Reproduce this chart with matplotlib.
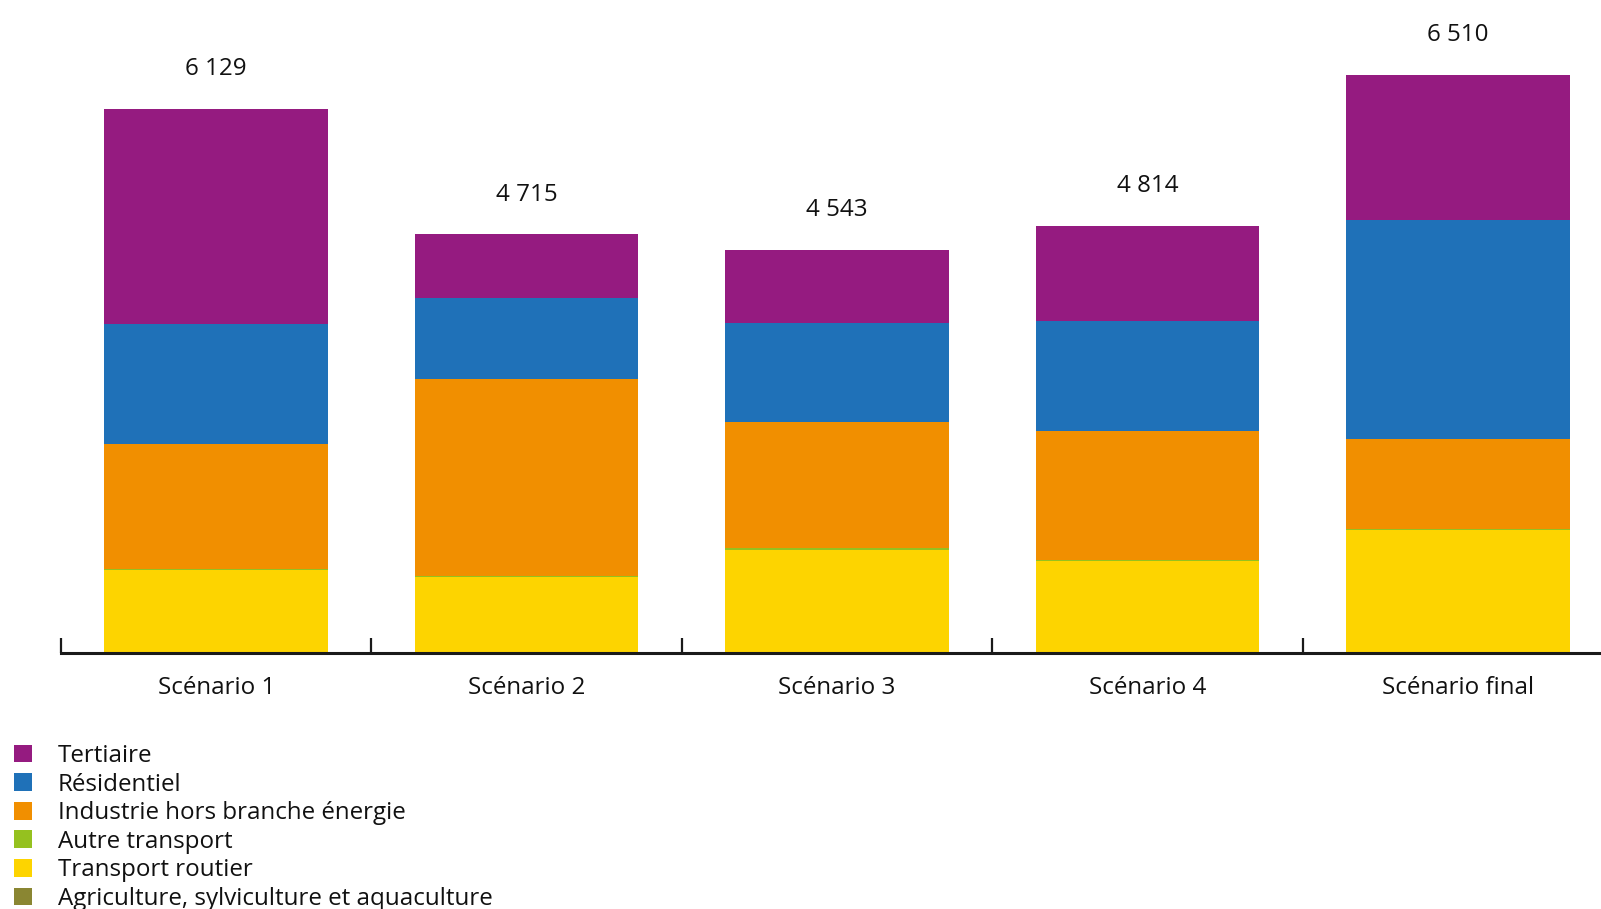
import matplotlib
matplotlib.use('Agg')
import matplotlib.pyplot as plt
import numpy as np

categories = ['Scénario 1', 'Scénario 2', 'Scénario 3', 'Scénario 4', 'Scénario final']
totals = [6129, 4715, 4543, 4814, 6510]
total_labels = ['6 129', '4 715', '4 543', '4 814', '6 510']

# stacked from bottom to top
agriculture = [8, 8, 8, 8, 8]
transport_routier = [923, 841, 1153, 1027, 1373]
autre_transport = [12, 15, 15, 14, 14]
industrie = [1414, 2217, 1426, 1450, 1013]
residentiel = [1347, 920, 1115, 1236, 2466]
tertiaire = [2425, 714, 826, 1079, 1636]

series_names = ['Agriculture, sylviculture et aquaculture', 'Transport routier',
                'Autre transport', 'Industrie hors branche énergie',
                'Résidentiel', 'Tertiaire']
series_values = [agriculture, transport_routier, autre_transport, industrie,
                 residentiel, tertiaire]
colors = ['#8a8632', '#fdd400', '#95c11f', '#f18f00', '#1f71b8', '#951b80']

plt.rcParams['font.family'] = ['Open Sans', 'DejaVu Sans']
FS = 17.4

W, H = 1601, 909
fig = plt.figure(figsize=(W / 100, H / 100), dpi=100)
base_px = 652.7
ax = fig.add_axes([61 / W, (H - base_px) / H, 1552 / W, base_px / H])

x = np.arange(len(categories))
bottom = np.zeros(len(categories))
handles = []
for name, vals, c in zip(series_names, series_values, colors):
    b = ax.bar(x, vals, width=0.72, bottom=bottom, color=c, label=name,
               linewidth=0)
    handles.append(b)
    bottom += np.array(vals)

ax.set_xlim(-0.5, 4.5)
ax.set_ylim(0, base_px * 11.27)

for xi, t, lab in zip(x, totals, total_labels):
    ax.annotate(lab, xy=(xi, t), xytext=(0, 33.8), textcoords='offset pixels',
                ha='center', va='baseline', fontsize=FS, color='#111111')

for s in ['left', 'right', 'top']:
    ax.spines[s].set_visible(False)
ax.spines['bottom'].set_linewidth(2.2)
ax.spines['bottom'].set_color('#1a1a1a')
ax.set_yticks([])

ax.set_xticks(x)
ax.set_xticklabels(categories, fontsize=FS, color='#111111')
ax.tick_params(axis='x', which='major', length=0, pad=17)
ax.set_xticks(np.arange(-0.5, 4.0, 1.0), minor=True)
ax.tick_params(axis='x', which='minor', direction='in', length=10.8,
               width=1.6, color='#1a1a1a')

leg = fig.legend(handles[::-1], series_names[::-1], loc='upper left',
                 bbox_to_anchor=(14 / W, 1 - 744 / H), frameon=False,
                 fontsize=FS, handlelength=0.75, handleheight=0.75,
                 handletextpad=1.05, labelspacing=0.19, borderpad=0,
                 borderaxespad=0)
for t in leg.get_texts():
    t.set_color('#111111')

fig.savefig('out.png', dpi=100)
